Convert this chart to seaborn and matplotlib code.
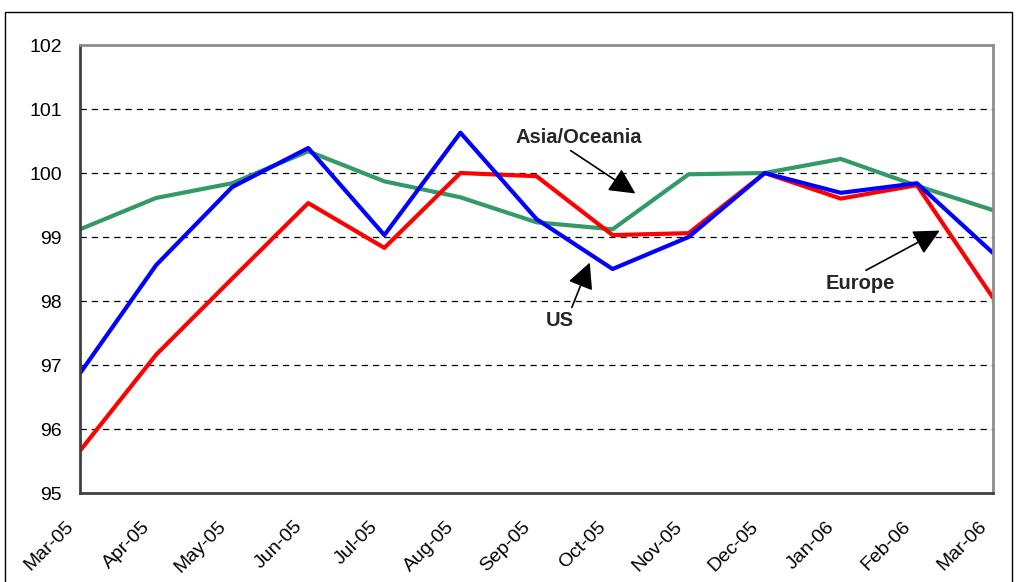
import matplotlib
matplotlib.use("Agg")
import matplotlib.pyplot as plt
import matplotlib.patches as mpatches
import matplotlib.transforms as mtransforms
import seaborn as sns
import pandas as pd

months = ["Mar-05", "Apr-05", "May-05", "Jun-05", "Jul-05", "Aug-05", "Sep-05",
          "Oct-05", "Nov-05", "Dec-05", "Jan-06", "Feb-06", "Mar-06"]
us = [96.87, 98.56, 99.78, 100.39, 99.03, 100.63, 99.28, 98.50, 99.00, 100.00, 99.69, 99.84, 98.75]
europe = [95.66, 97.16, 98.35, 99.53, 98.83, 100.00, 99.95, 99.03, 99.06, 100.00, 99.60, 99.81, 98.05]
asia_oceania = [99.12, 99.61, 99.84, 100.34, 99.87, 99.62, 99.23, 99.12, 99.98, 100.00, 100.22, 99.80, 99.42]
y_ticks = [95, 96, 97, 98, 99, 100, 101, 102]

series = {"US": us, "Europe": europe, "Asia/Oceania": asia_oceania}
colors = {"US": "#0000FF", "Europe": "#FF0000", "Asia/Oceania": "#339966"}

rows = []
for name, vals in series.items():
    for i, v in enumerate(vals):
        rows.append({"idx": i, "value": v, "region": name})
df = pd.DataFrame(rows)

sns.set_theme(style="white")
plt.rcParams["font.family"] = ["Liberation Sans", "DejaVu Sans"]

fig = plt.figure(figsize=(10.16, 5.82), dpi=100)
ax = fig.add_axes([80 / 1016, 1 - 493 / 582, 913 / 1016, 448 / 582])

# outer chart frame
frame = mpatches.Rectangle((5 / 1016, -0.05), 1007 / 1016, 1.05 - 12 / 582,
                           transform=fig.transFigure, fill=False,
                           edgecolor="black", linewidth=1.0)
fig.patches.append(frame)

# draw Asia/Oceania first so the US and Europe lines sit on top
for name in ["Asia/Oceania", "Europe", "US"]:
    sns.lineplot(data=df[df["region"] == name], x="idx", y="value",
                 color=colors[name], linewidth=3.0, ax=ax, legend=False)

ax.set_xlim(0, len(months) - 1)
ax.set_ylim(95, 102)
ax.set_yticks(y_ticks)
ax.set_yticklabels([str(t) for t in y_ticks], fontsize=14, color="black")
ax.set_xticks(range(len(months)))
ax.set_xlabel("")
ax.set_ylabel("")

# slanted month labels, set down and to the left of their ticks
ax.tick_params(axis="x", labelbottom=False)
base = mtransforms.blended_transform_factory(ax.transData, ax.transAxes)
label_trans = mtransforms.offset_copy(base, fig=fig, x=-15, y=-25, units="dots")
for i, m in enumerate(months):
    ax.text(i, 0, m, transform=label_trans, rotation=45, rotation_mode="anchor",
            ha="right", va="top", fontsize=14, color="black", clip_on=False)

for t in y_ticks[1:-1]:
    ax.axhline(t, color="black", linestyle=(0, (5, 4)), linewidth=0.9, zorder=0)

ax.tick_params(axis="x", direction="out", length=6, width=1, color="#404040")
ax.tick_params(axis="y", direction="out", length=5, width=1, color="#404040", pad=8)

for side in ["left", "bottom"]:
    ax.spines[side].set_color("#404040")
    ax.spines[side].set_linewidth(2.0)
for side in ["top", "right"]:
    ax.spines[side].set_color("#8c8c8c")
    ax.spines[side].set_linewidth(2.0)

arrow = dict(arrowstyle="-|>,head_length=1.1,head_width=0.55", color="black",
             linewidth=1.2, shrinkA=0, shrinkB=0)

ax.annotate("Asia/Oceania", xy=(7.3, 99.68), xytext=(6.55, 100.55),
            fontsize=14.5, fontweight="bold", ha="center", va="center",
            arrowprops=dict(arrow, relpos=(0.4, 0.0)))
ax.annotate("US", xy=(6.7, 98.6), xytext=(6.3, 97.7),
            fontsize=14.5, fontweight="bold", ha="center", va="center",
            arrowprops=dict(arrow, relpos=(0.9, 1.0)))
ax.annotate("Europe", xy=(11.3, 99.1), xytext=(10.25, 98.28),
            fontsize=14.5, fontweight="bold", ha="center", va="center",
            arrowprops=dict(arrow, relpos=(0.5, 1.0)))

fig.savefig("out.png", dpi=100)
